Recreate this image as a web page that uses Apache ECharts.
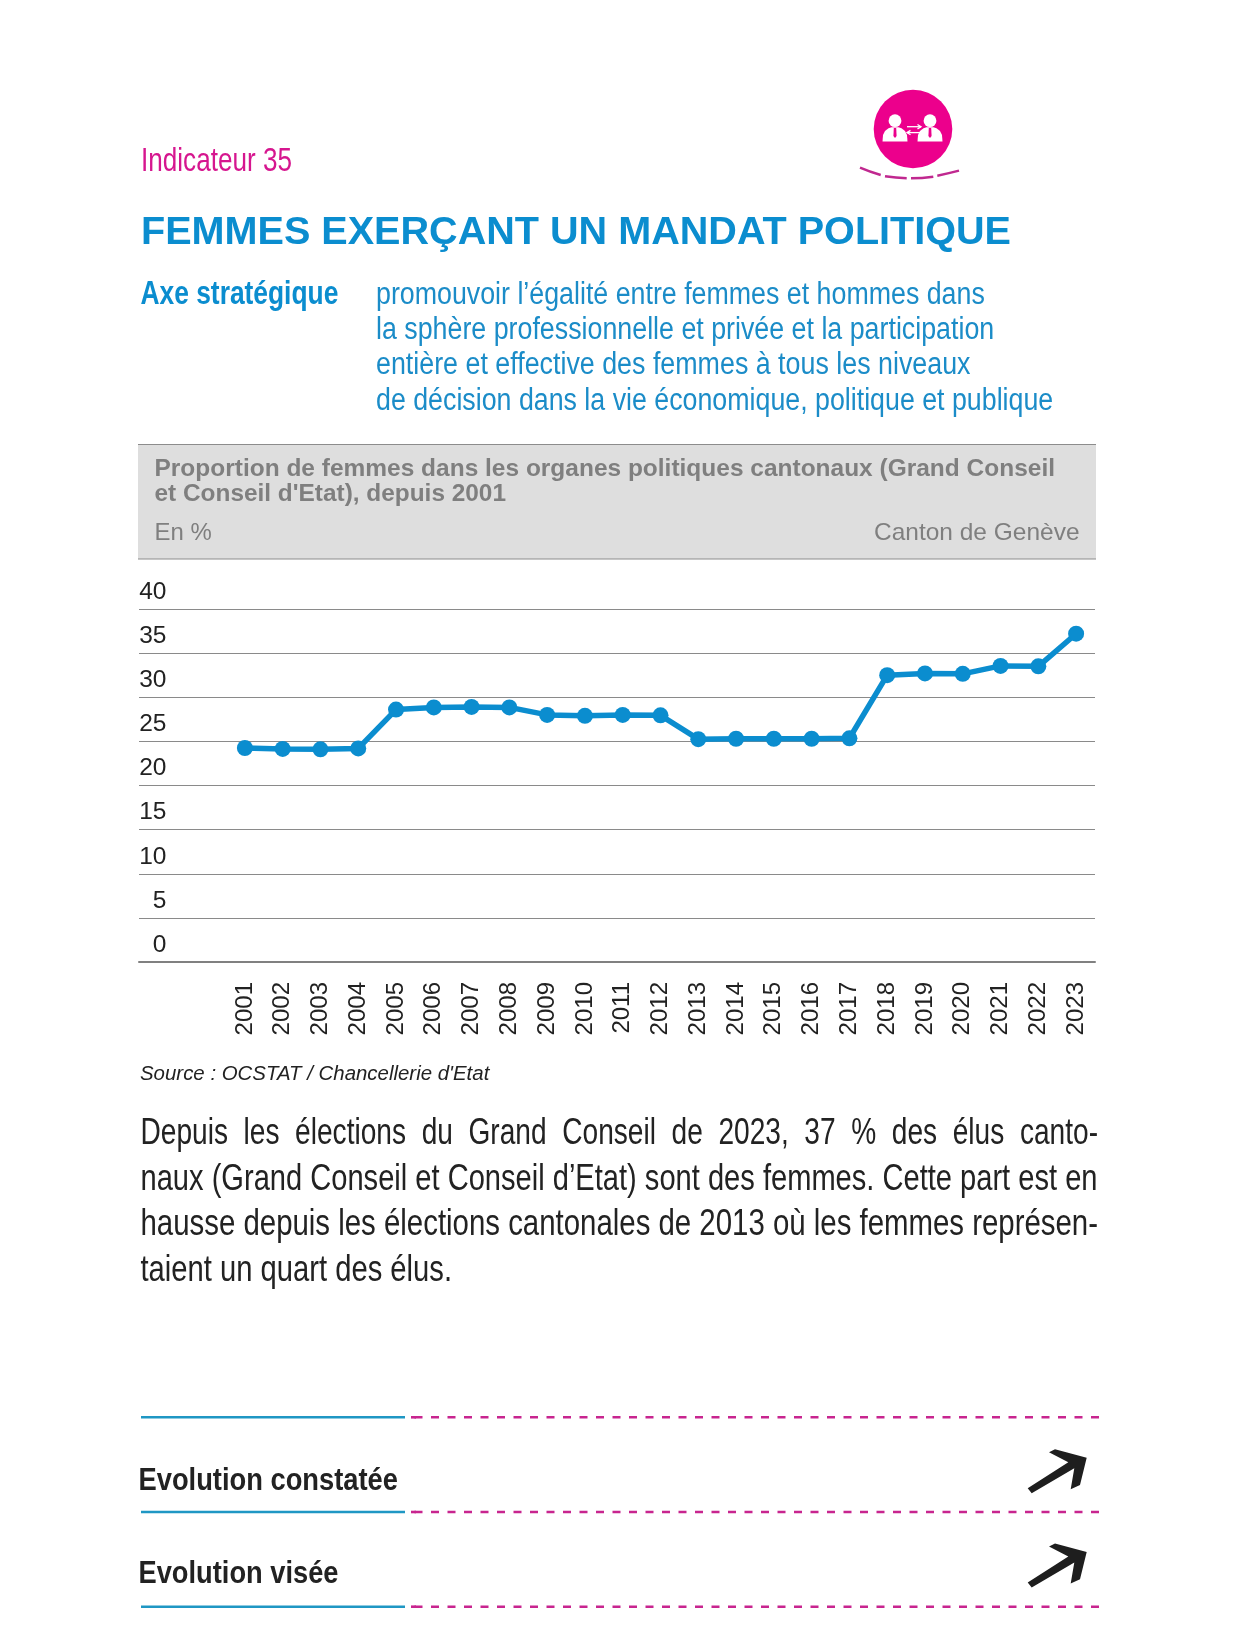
<!DOCTYPE html>
<html><head><meta charset="utf-8">
<style>html,body{margin:0;padding:0;background:#fff}#c{width:1236px;height:1633px}</style>
<script src="https://cdn.jsdelivr.net/npm/echarts@6/dist/echarts.min.js"></script>
</head><body><div id="c"></div>
<script>
const years = ['2001','2002','2003','2004','2005','2006','2007','2008','2009','2010','2011','2012','2013','2014','2015','2016','2017','2018','2019','2020','2021','2022','2023'];
const womenShare = [24.25,24.15,24.1,24.2,28.6,28.85,28.9,28.85,28.0,27.9,28.0,27.95,25.25,25.3,25.3,25.3,25.35,32.5,32.7,32.65,33.55,33.5,37.2];
const yMin = 0, yMax = 40, yStep = 5;

const FONT = '"Liberation Sans", Arial, sans-serif';
const BLUE = '#0b8dcf', TXTBLUE = '#1b8cc8', PINK = '#ec008c', MAG = '#d6168f', DARK = '#222222', GREY = '#7f7f7f';
const mc = document.createElement('canvas').getContext('2d');
function T(text, x0, x1, base, size, fill, weight, style) {
  const font = (style||'normal') + ' ' + (weight||'normal') + ' ' + size + 'px ' + FONT;
  mc.font = font;
  const w = mc.measureText(text).width;
  return {type:'text', x:x0, y:base-0.26*size, scaleX:(x1-x0)/w, silent:true, z:10,
    style:{text, font, fill, align:'left', verticalAlign:'middle'}};
}
const g = [];
// grey header band
g.push({type:'rect', shape:{x:138,y:444,width:958,height:115}, style:{fill:'#dedede'}, z:1});
[444.5,559].forEach(y=>g.push({type:'line', shape:{x1:138,y1:y,x2:1096,y2:y}, style:{stroke:'#8c8c8c',lineWidth:1.2}, z:2}));
// heading
g.push(T('Indicateur 35',141,292,170.7,33,MAG));
g.push(T('FEMMES EXERÇANT UN MANDAT POLITIQUE',141,1011,243.5,38.5,BLUE,'bold'));
g.push(T('Axe stratégique',140.5,338.3,303.8,32.5,BLUE,'bold'));
g.push(T('promouvoir l’égalité entre femmes et hommes dans',376,984.8,303.3,31,TXTBLUE));
g.push(T('la sphère professionnelle et privée et la participation',376,994.2,338.3,31,TXTBLUE));
g.push(T('entière et effective des femmes à tous les niveaux',376,970.5,374,31,TXTBLUE));
g.push(T('de décision dans la vie économique, politique et publique',376,1053.2,409.3,31,TXTBLUE));
g.push(T('Proportion de femmes dans les organes politiques cantonaux (Grand Conseil',154.5,1055,475.7,24,GREY,'bold'));
g.push(T("et Conseil d'Etat), depuis 2001",154.5,506,500.7,24,GREY,'bold'));
g.push(T('En %',154.5,211.7,540,24,GREY));
g.push(T('Canton de Genève',874,1079.5,540,24,GREY));
g.push(T("Source : OCSTAT / Chancellerie d'Etat",140,489.3,1080,20,DARK,'normal','italic'));
// body
g.push(T('Depuis  les  élections  du  Grand  Conseil  de  2023,  37  %  des  élus  canto-',140.5,1098,1143.3,36,DARK));
g.push(T('naux (Grand Conseil et Conseil d’Etat) sont des femmes. Cette part est en',140.5,1097.5,1189.3,36,DARK));
g.push(T('hausse depuis les élections cantonales de 2013 où les femmes représen-',140.5,1098,1234.3,36,DARK));
g.push(T('taient un quart des élus.',140.5,452,1280,36,DARK));
// footer
[1417.3,1512,1606.7].forEach(y=>{
  g.push({type:'line',shape:{x1:141,y1:y,x2:405,y2:y},style:{stroke:'#1f97c4',lineWidth:2.4},z:2});
  g.push({type:'line',shape:{x1:411,y1:y,x2:416,y2:y},style:{stroke:'#c8258f',lineWidth:2.6},z:2});
  g.push({type:'line',shape:{x1:414.5,y1:y,x2:1099,y2:y},style:{stroke:'#c8258f',lineWidth:2.6,lineDash:[8,8.5]},z:2});
});
g.push(T('Evolution constatée',138.5,398,1489.3,31.5,DARK,'bold'));
g.push(T('Evolution visée',138.5,338.5,1582.3,31.5,DARK,'bold'));
[0,94.3].forEach(dy=>{
  const pts=[[1027.7,1488.3],[1068.3,1462.3],[1049,1452.3],[1055,1449.3],[1086.7,1457.7],[1080,1485],[1070.7,1489.3],[1074.3,1468.3],[1031.7,1493.3]];
  g.push({type:'polygon',shape:{points:pts.map(p=>[p[0],p[1]+dy])},style:{fill:'#1e1e1e'},z:3});
});
// icon
g.push({type:'circle',shape:{cx:913,cy:129,r:39.3},style:{fill:PINK},z:3});
[895,930].forEach(cx=>{
  g.push({type:'circle',shape:{cx,cy:120.7,r:6.4},style:{fill:'#fff'},z:4});
  const off=[[-12.5,141.5],[-12,135],[-10,131],[-6.5,128.3],[-3.5,127.2],[3.5,127.2],[6.5,128.3],[10,131],[12,135],[12.5,141.5]];
  g.push({type:'polygon',shape:{points:off.map(o=>[cx+o[0],o[1]])},style:{fill:'#fff'},z:4});
  g.push({type:'polygon',shape:{points:[[cx-1.2,128],[cx+1.2,128],[cx+1.6,136],[cx,138],[cx-1.6,136]]},style:{fill:PINK},z:5});
});
[[907,126.7,921,126.7,917.5,124.5,917.5,128.9],[921,132.6,907,132.6,910.5,130.4,910.5,134.8]].forEach(a=>{
  g.push({type:'line',shape:{x1:a[0],y1:a[1],x2:a[2],y2:a[3]},style:{stroke:'#fff',lineWidth:1.3},z:5});
  g.push({type:'polyline',shape:{points:[[a[4],a[5]],[a[2],a[3]],[a[6],a[7]]]},style:{stroke:'#fff',lineWidth:1.3,fill:null},z:5});
});
[[860,167.7,880.7,175,870,172],[885,176.3,906.7,178.3,896,178],[911,178.3,933.3,176.7,922,178.2],[937.3,175.7,959,170.7,948,173.6]].forEach(a=>{
  g.push({type:'bezierCurve',shape:{x1:a[0],y1:a[1],x2:a[2],y2:a[3],cpx1:a[4],cpy1:a[5]},style:{stroke:'#c0288f',lineWidth:2.4,fill:null},z:3});
});

const chart = echarts.init(document.getElementById('c'),null,{renderer:'canvas',width:1236,height:1633});
chart.setOption({
  animation:false, backgroundColor:'#fff', textStyle:{fontFamily:FONT},
  grid:[
    {left:139,width:956,top:609,height:353},
    {left:226,width:869,top:609,height:353}
  ],
  xAxis:[
    {gridIndex:0,type:'value',min:0,max:1,axisLabel:{show:false},axisTick:{show:false},splitLine:{show:false},
     axisLine:{show:true,lineStyle:{color:'#808080',width:2}}},
    {gridIndex:1,type:'category',data:years,boundaryGap:true,axisLine:{show:false},axisTick:{show:false},
     axisLabel:{interval:0,rotate:90,margin:20,fontSize:24,color:DARK,fontFamily:FONT}}
  ],
  yAxis:[
    {gridIndex:0,type:'value',min:yMin,max:yMax,interval:yStep,axisLine:{show:false},axisTick:{show:false},
     axisLabel:{inside:true,margin:27.5,align:'right',verticalAlign:'bottom',fontSize:24.5,color:DARK,fontFamily:FONT,lineHeight:24,padding:[0,0,5,0]},
     splitLine:{show:true,lineStyle:{color:'#8a8a8a',width:1.2}}},
    {gridIndex:1,type:'value',min:yMin,max:yMax,interval:yStep,show:false,splitLine:{show:false}}
  ],
  series:[{type:'line',xAxisIndex:1,yAxisIndex:1,data:womenShare,smooth:false,symbol:'circle',symbolSize:16,
    lineStyle:{color:BLUE,width:5.5},itemStyle:{color:BLUE},z:5}],
  graphic:{elements:g}
});
</script></body></html>
